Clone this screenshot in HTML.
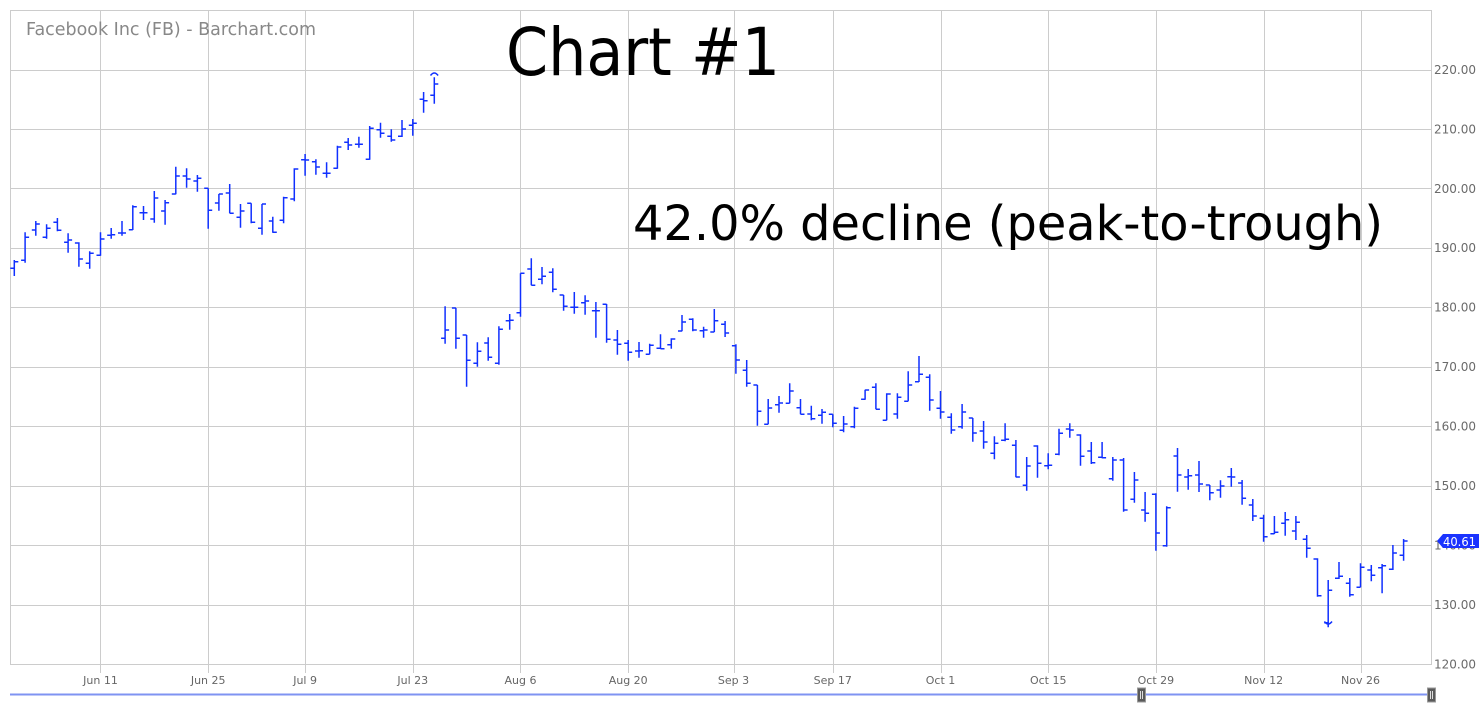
<!DOCTYPE html>
<html><head><meta charset="utf-8">
<style>
html,body{margin:0;padding:0;background:#fff;}
svg{display:block;}
text{font-family:"DejaVu Sans","Liberation Sans",sans-serif;}
</style></head>
<body>
<svg id="c" width="1482" height="710" viewBox="0 0 1482 710" xmlns="http://www.w3.org/2000/svg">
<rect width="1482" height="710" fill="#fff"/>
<g id="grid" stroke="#cccccc" stroke-width="1" shape-rendering="crispEdges"></g>
<text x="26" y="35" font-size="18" fill="#888" textLength="290" lengthAdjust="spacingAndGlyphs">Facebook Inc (FB) - Barchart.com</text>
<text x="506" y="75" font-size="66" fill="#000" textLength="274" lengthAdjust="spacingAndGlyphs">Chart #1</text>
<text x="633" y="240" font-size="48" fill="#000" textLength="750" lengthAdjust="spacingAndGlyphs">42.0% decline (peak-to-trough)</text>
<g id="ylab" font-size="12" fill="#6a6a6a"></g>
<g id="xlab" font-size="11" fill="#666" text-anchor="middle"></g>
<path id="bars" fill="none" stroke="#1030ff" stroke-width="1.5"/>
<path d="M430.5 75.5 Q434.3 70.5 438.1 75.5" fill="none" stroke="#1030ff" stroke-width="1.5"/>
<path d="M1324.4 621.5 Q1328.2 626.5 1332 621.5" fill="none" stroke="#1030ff" stroke-width="1.5"/>
<!-- price label -->
<path d="M1437 541 L1443 534 L1479 534 L1479 548 L1443 548 Z" fill="#1a33ff"/>
<text x="1443" y="546" font-size="12" fill="#fff" textLength="33" lengthAdjust="spacingAndGlyphs">40.61</text>
<!-- scroller -->
<line x1="10" y1="694.5" x2="1432" y2="694.5" stroke="#7f93f2" stroke-width="2"/>
<rect x="1137.5" y="688" width="8" height="14" fill="#5a5a5a" stroke="#999" stroke-width="1"/>
<line x1="1140.5" y1="691" x2="1140.5" y2="699" stroke="#ddd" stroke-width="1"/>
<line x1="1142.5" y1="691" x2="1142.5" y2="699" stroke="#ddd" stroke-width="1"/>
<rect x="1427.5" y="688" width="8" height="14" fill="#5a5a5a" stroke="#999" stroke-width="1"/>
<line x1="1430.5" y1="691" x2="1430.5" y2="699" stroke="#ddd" stroke-width="1"/>
<line x1="1432.5" y1="691" x2="1432.5" y2="699" stroke="#ddd" stroke-width="1"/>
</svg>
<script>
(function(){
var NS="http://www.w3.org/2000/svg";
function el(tag,attrs,txt){var e=document.createElementNS(NS,tag);for(var k in attrs)e.setAttribute(k,attrs[k]);if(txt!==undefined)e.textContent=txt;return e;}
var grid=document.getElementById('grid');
var ylab=document.getElementById('ylab');
var xlab=document.getElementById('xlab');
function X(i){return 14.3+(i-1)*10.77;}
function Yp(p){return 664-(p-120)*5.945;}
// horizontal gridlines
for(var p=130;p<=220;p+=10){
  var y=Math.round(Yp(p))+0.5;
  grid.appendChild(el('line',{x1:10,y1:y,x2:1431,y2:y}));
}
for(var p=120;p<=220;p+=10){
  var y=Yp(p);
  ylab.appendChild(el('text',{x:1434,y:(y+4.4).toFixed(1)},p.toFixed(2)));
}
// vertical gridlines & x labels
var ticks=[["Jun 11",X(9)],["Jun 25",X(19)],["Jul 9",X(28)],["Jul 23",X(38)],["Aug 6",X(48)],["Aug 20",X(58)],["Sep 3",733.5],["Sep 17",X(77)],["Oct 1",X(87)],["Oct 15",X(97)],["Oct 29",X(107)],["Nov 12",X(117)],["Nov 26",X(126)]];
ticks.forEach(function(t){
  var x=Math.round(t[1])+0.5;
  grid.appendChild(el('line',{x1:x,y1:10,x2:x,y2:673}));
  xlab.appendChild(el('text',{x:t[1].toFixed(1),y:684},t[0]));
});
// frame
grid.appendChild(el('line',{x1:10,y1:10.5,x2:1431,y2:10.5}));
grid.appendChild(el('line',{x1:10.5,y1:10,x2:10.5,y2:664}));
grid.appendChild(el('line',{x1:1431.5,y1:10,x2:1431.5,y2:664}));
grid.appendChild(el('line',{x1:10,y1:664.5,x2:1432,y2:664.5}));
// OHLC data in zoom coordinates
var d1=[[780,828,805,785],[697,788,781,712],[663,707,690,672],[673,716,712,685],[654,694,667,691],[700,758,727,720],[727,800,729,777],[754,806,790,760],[697,767,766,717],[684,716,706,704],[663,707,699,699],[616,690,689,620],[618,660,638,638],[573,668,657,594],[600,674,633,608],[500,583,582,528],[505,563,528,537],[525,575,543,535],[565,686,565,631],[582,632,609,582],[552,640,579,640],[612,683,652,633],[610,670,610,667],[612,704,685,612],[650,698,663,697],[590,670,661,593],[505,604,597,507],[462,527,479,480],[478,524,485,501],[487,533,520,520],[437,506,505,441],[414,450,427,435],[410,443,433,433],[378,479,478,385],[368,413,389,400],[388,425,409,420],[360,411,409,387],[357,407,376,370],[276,338,298,302],[232,311,286,252]];
var d2=[[229,341,325,300],[234,356,234,325],[315,470,315,391],[337,410,400,364],[322,392,339,382],[289,404,400,298],[252,299,272,271],[130,260,248,130],[85,166,117,166],[111,163,148,139],[115,187,127,178],[195,242,195,229],[186,251,232,232],[196,254,218,213],[216,323,242,242],[222,338,223,328],[300,374,330,343],[330,392,340,367],[336,383,363,362],[341,373,373,346],[313,357,355,356],[325,356,344,327],[255,304,303,276],[265,304,268,300],[290,323,302,300],[237,306,306,272],[273,321,283,309],[343,431,347,390],[390,470,421,460],[465,587,465,544],[507,583,583,534],[498,548,524,519],[460,520,520,483],[507,553,533,553],[527,571,552,566],[537,581,556,547],[553,592,553,580],[558,607,601,582],[530,595,590,535],[479,509,508,480],[460,538,472,538]];
var d3=[[160,241,241,162],[160,236,222,172],[94,184,184,135],[48,126,125,103],[103,212,112,180],[153,236,205,216],[220,281,232,270],[192,266,260,216],[234,305,234,279],[243,326,273,306],[289,358,340,310],[250,304,301,298],[300,412,316,411],[351,452,436,378],[316,413,318,370],[340,388,377,376],[266,346,343,280],[250,293,267,270],[283,377,285,349],[306,372,333,368],[306,355,352,353],[351,422,416,360],[354,515,360,510],[396,488,478,420],[456,545,510,520],[460,632,463,579],[499,620,617,503],[324,455,348,405],[387,449,411,407],[363,456,405,432],[435,481,435,458],[421,473,450,438],[384,440,410,411],[420,494,429,475],[477,543,495,528],[524,605,535,590],[528,582,581,577],[516,587,550,539],[528,600,573,547],[585,653,598,625],[655,770,657,767],[720,862,848,751],[666,717,715,709],[714,770,730,764],[670,742,742,682],[675,724,690,706],[672,760,683,677],[615,690,688,639],[597,662,646,603]];
var segs=[[0,d1],[230,d2],[340,d3]];
var s="",i=1;
segs.forEach(function(sg){
  var off=sg[0];
  sg[1].forEach(function(b){
    var x=X(i);
    var h=b[0]/3+off,l=b[1]/3+off,o=b[2]/3+off,c=b[3]/3+off;
    s+="M"+x.toFixed(1)+" "+h.toFixed(1)+"V"+l.toFixed(1)+
       "M"+(x-4).toFixed(1)+" "+o.toFixed(1)+"H"+x.toFixed(1)+
       "M"+x.toFixed(1)+" "+c.toFixed(1)+"H"+(x+4).toFixed(1);
    i++;
  });
});
document.getElementById('bars').setAttribute('d',s);
})();
</script>
</body></html>
